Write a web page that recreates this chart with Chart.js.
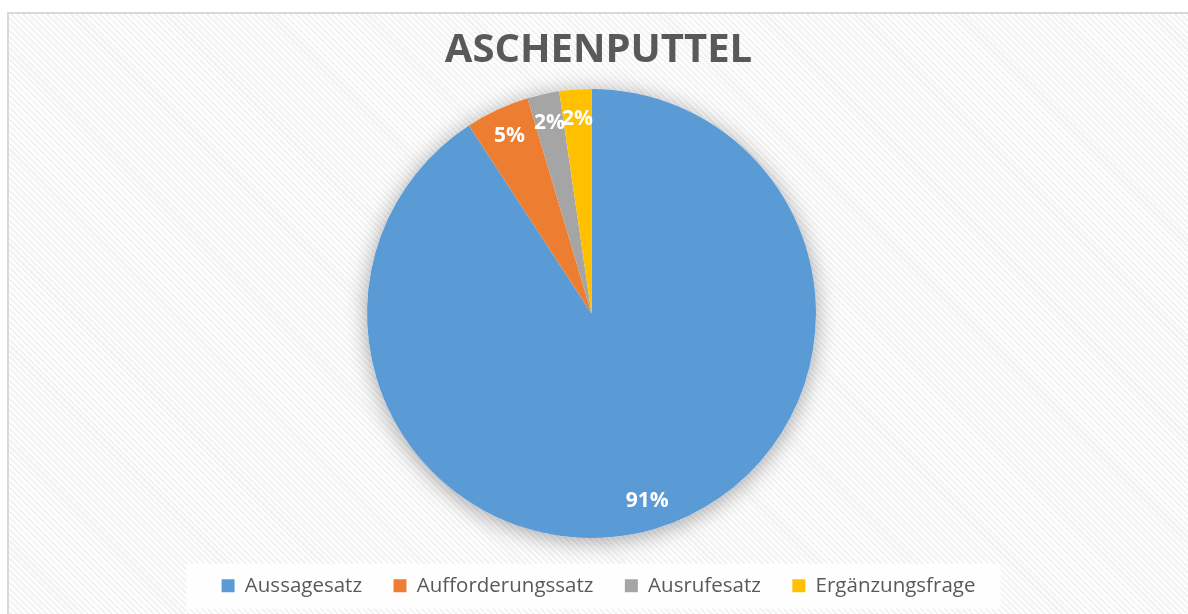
<!DOCTYPE html>
<html>
<head>
<meta charset="utf-8">
<script src="https://cdn.jsdelivr.net/npm/chart.js@4"></script>
<style>
  html, body { margin: 0; padding: 0; background: #fff; }
  body { width: 1188px; height: 614px; overflow: hidden; position: relative; }
  #frame {
    position: absolute; left: 7px; top: 12px; width: 1200px; height: 620px;
    border-left: 2px solid #d9d9d9; border-top: 2px solid #d9d9d9;
    background: repeating-linear-gradient(45deg, #ffffff 0px, #ffffff 2px, #f3f3f3 2px, #f3f3f3 4.2px);
  }
  #wrap { position: absolute; left: 9px; top: 14px; width: 1179px; height: 600px; }
</style>
</head>
<body>
<div id="frame"></div>
<div id="wrap"><canvas id="pieChart"></canvas></div>
<script>
// Chart data
const categories = ['Aussagesatz', 'Aufforderungssatz', 'Ausrufesatz', 'Ergänzungsfrage'];
const counts = [79, 4, 2, 2];
const percentLabels = ['91%', '5%', '2%', '2%'];
const sliceColors = ['#5B9BD5', '#ED7D31', '#A5A5A5', '#FFC000'];

// soft shadow under the whole pie
const pieShadow = {
    id: 'pieShadow',
    beforeDatasetsDraw(chart) {
        const arc = chart.getDatasetMeta(0).data[0];
        if (!arc) return;
        const ctx = chart.ctx;
        ctx.save();
        ctx.shadowColor = 'rgba(0,0,0,0.35)';
        ctx.shadowBlur = 22;
        ctx.shadowOffsetY = 3;
        ctx.fillStyle = '#ffffff';
        ctx.beginPath();
        ctx.arc(arc.x, arc.y, arc.outerRadius, 0, Math.PI * 2);
        ctx.fill();
        ctx.restore();
    }
};

// white box behind the legend items
const legendBox = {
    id: 'legendBox',
    beforeDraw(chart) {
        const boxes = chart.legend && chart.legend.legendHitBoxes;
        if (!boxes || !boxes.length) return;
        const left = Math.min(...boxes.map(b => b.left)) - 35;
        const right = Math.max(...boxes.map(b => b.left + b.width)) + 25;
        const mid = boxes[0].top + boxes[0].height / 2;
        const ctx = chart.ctx;
        ctx.save();
        ctx.fillStyle = 'rgba(255,255,255,0.92)';
        ctx.fillRect(left, mid - 22, right - left, 45);
        ctx.restore();
    }
};

// Excel puts the pie a little left of the centre
const shiftPie = {
    id: 'shiftPie',
    afterLayout(chart) {
        chart.chartArea.left -= 7;
        chart.chartArea.right -= 7;
    }
};

// percentage labels inside the slices
const sliceLabels = {
    id: 'sliceLabels',
    afterDatasetsDraw(chart) {
        const ctx = chart.ctx;
        ctx.save();
        ctx.fillStyle = '#ffffff';
        ctx.font = 'bold 21px "Open Sans"';
        ctx.textAlign = 'center';
        ctx.textBaseline = 'middle';
        chart.getDatasetMeta(0).data.forEach((arc, i) => {
            const mid = (arc.startAngle + arc.endAngle) / 2;
            const r = arc.outerRadius * 0.87;
            ctx.fillText(percentLabels[i], arc.x + Math.cos(mid) * r, arc.y + Math.sin(mid) * r);
        });
        ctx.restore();
    }
};

document.addEventListener('DOMContentLoaded', () => {
    const ctx = document.getElementById('pieChart').getContext('2d');
    new Chart(ctx, {
        type: 'pie',
        data: {
            labels: categories,
            datasets: [{
                data: counts,
                backgroundColor: sliceColors,
                borderWidth: 0
            }]
        },
        options: {
            responsive: true,
            maintainAspectRatio: false,
            animation: false,
            layout: { padding: { top: 0, bottom: 8 } },
            plugins: {
                title: {
                    display: true,
                    text: 'ASCHENPUTTEL',
                    color: '#595959',
                    font: { family: '"Open Sans"', size: 40, weight: 'bold' },
                    padding: { top: 13, bottom: 14 }
                },
                legend: {
                    position: 'bottom',
                    // empty legend title only adds space above the items
                    title: { display: true, text: ' ', font: { size: 5 }, padding: 0 },
                    labels: {
                        color: '#595959',
                        font: { family: '"Open Sans"', size: 20.5 },
                        boxWidth: 13,
                        boxHeight: 13,
                        padding: 31.5
                    }
                },
                tooltip: { enabled: false }
            }
        },
        plugins: [pieShadow, legendBox, shiftPie, sliceLabels]
    });
});
</script>
</body>
</html>
